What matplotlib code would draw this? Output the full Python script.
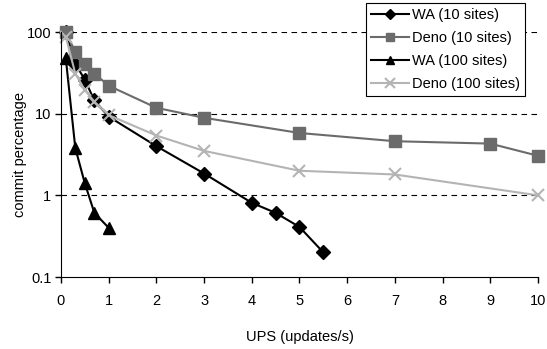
import matplotlib.pyplot as plt

plt.rcParams['font.family'] = ['Liberation Sans', 'DejaVu Sans']

# данные
wa10_x = [0.1, 0.3, 0.5, 0.7, 1, 2, 3, 4, 4.5, 5, 5.5]
wa10_y = [100, 41, 26, 14.5, 9.2, 4.0, 1.85, 0.81, 0.61, 0.41, 0.2]

deno10_x = [0.1, 0.3, 0.5, 0.7, 1, 2, 3, 5, 7, 9, 10]
deno10_y = [100, 57, 41, 31, 22, 11.8, 8.9, 5.8, 4.6, 4.3, 3.05]

wa100_x = [0.1, 0.3, 0.5, 0.7, 1]
wa100_y = [48, 3.8, 1.4, 0.61, 0.4]

deno100_x = [0.1, 0.3, 0.5, 0.7, 1, 2, 3, 5, 7, 10]
deno100_y = [88, 31, 19.5, 14, 9.6, 5.4, 3.5, 2.0, 1.8, 1.0]

x_ticks = [0, 1, 2, 3, 4, 5, 6, 7, 8, 9, 10]
y_ticks = [0.1, 1, 10, 100]
y_labels = ['0.1', '1', '10', '100']

fig = plt.figure(figsize=(5.47, 3.49), dpi=100)
ax = fig.add_axes([0.1115, 0.2063, 0.872, 0.702])

for y in [1, 10, 100]:
    ax.axhline(y, color='black', linestyle=(0, (5, 4)), linewidth=0.8, zorder=0)

ax.plot(wa10_x, wa10_y, color='black', marker='D', markersize=7, linewidth=1.5, label='WA (10 sites)', clip_on=False)
ax.plot(deno10_x, deno10_y, color='#6b6b6b', marker='s', markersize=8, linewidth=1.5, label='Deno (10 sites)', clip_on=False)
ax.plot(wa100_x, wa100_y, color='black', marker='^', markersize=8, linewidth=1.5, label='WA (100 sites)', clip_on=False)
ax.plot(deno100_x, deno100_y, color='#b4b4b4', marker='x', markersize=9, markeredgewidth=1.5, linewidth=1.5, label='Deno (100 sites)', clip_on=False)

ax.set_yscale('log')
ax.set_ylim(0.1, 100)
ax.set_xlim(0, 10)
ax.set_xticks(x_ticks)
ax.set_yticks(y_ticks)
ax.set_yticklabels(y_labels)
ax.minorticks_off()
ax.spines['top'].set_visible(False)
ax.spines['right'].set_visible(False)
ax.tick_params(axis='both', labelsize=10.5, length=4, width=1, direction='out')
ax.tick_params(axis='x', pad=8)
ax.tick_params(axis='y', pad=3)

ax.set_xlabel('UPS (updates/s)', fontsize=10.5, labelpad=16)
ax.set_ylabel('commit percentage', fontsize=10.5, labelpad=0)

leg = ax.legend(loc='upper right', bbox_to_anchor=(0.973, 1.118), fontsize=10.5, frameon=True, fancybox=False,
                edgecolor='black', framealpha=1, handlelength=2.6, borderaxespad=0, labelspacing=0.62,
                handletextpad=0.2, borderpad=0.35, markerscale=0.8)
leg.get_frame().set_linewidth(0.8)

fig.savefig('out.png', dpi=100)
